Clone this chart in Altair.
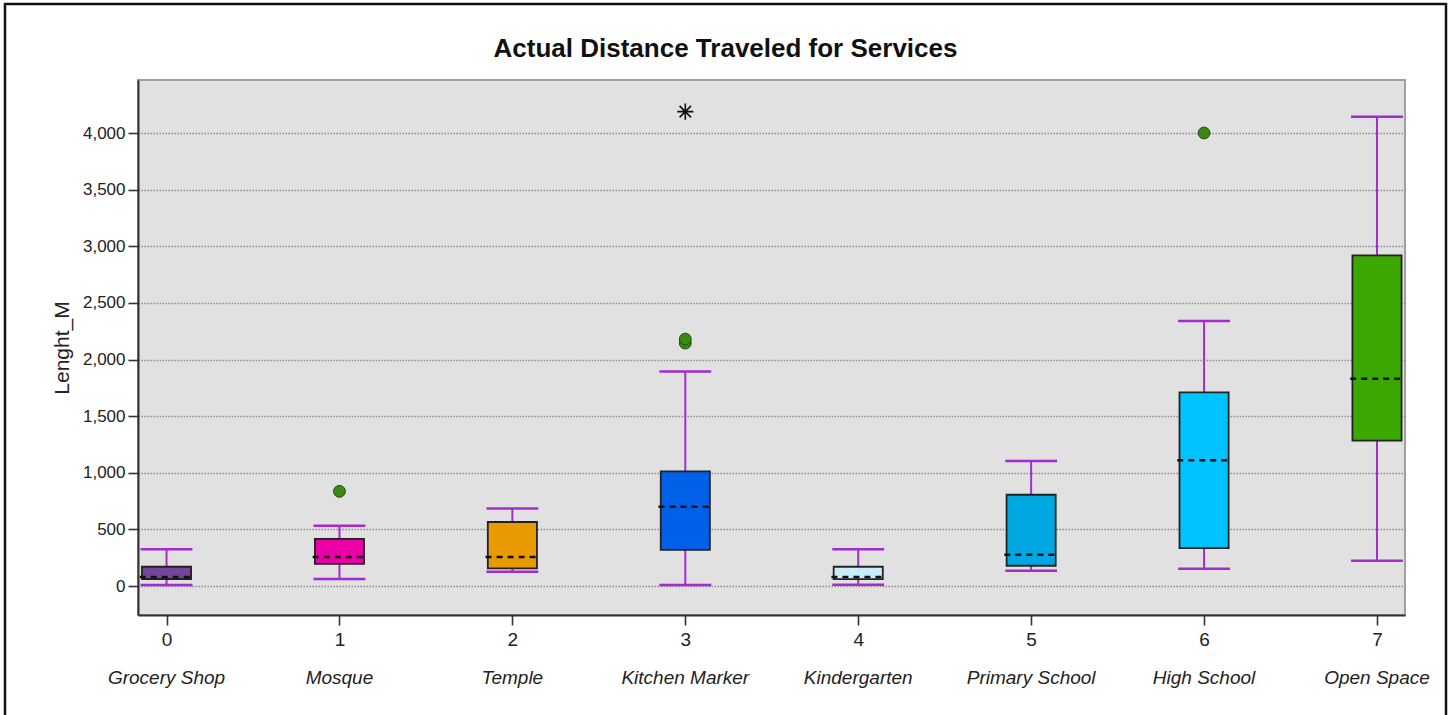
import altair as alt
import pandas as pd

# ---- data ----
categories = ["Grocery Shop", "Mosque", "Temple", "Kitchen Marker",
              "Kindergarten", "Primary School", "High School", "Open Space"]
positions = [0, 1, 2, 3, 4, 5, 6, 7]
whisker_low = [8, 62, 125, 10, 12, 134, 152, 222]
q1 = [62, 196, 155, 319, 60, 179, 335, 1284]
median = [80, 256, 256, 700, 80, 275, 1110, 1831]
q3 = [170, 417, 565, 1013, 170, 806, 1710, 2920]
whisker_high = [324, 533, 685, 1895, 325, 1104, 2339, 4143]
box_colors = ["#74459A", "#EA00A6", "#E99A00", "#0060E8",
              "#C8EDFC", "#00A8E2", "#00C4FF", "#3AA800"]

outlier_pos = [1, 3, 3, 6]
outlier_val = [836, 2145, 2180, 4000]
extreme_pos = [3]
extreme_val = [4189]

y_ticks = [0, 500, 1000, 1500, 2000, 2500, 3000, 3500, 4000]

df = pd.DataFrame({
    "pos": positions, "name": categories, "lo": whisker_low, "q1": q1,
    "med": median, "q3": q3, "hi": whisker_high, "fill": box_colors,
})
out_df = pd.DataFrame({"pos": outlier_pos, "val": outlier_val})
ext_df = pd.DataFrame({"pos": extreme_pos, "val": extreme_val})

W, H = 1267, 535
xs = alt.Scale(domain=[-0.165, 7.162], nice=False, zero=False)
ys = alt.Scale(domain=[-256, 4468], nice=False, zero=False)
WHISKER = "#A52BD0"

base = alt.Chart(df).transform_calculate(
    cl="datum.pos - 0.15", cr="datum.pos + 0.15",
    bl="datum.pos - 0.142", br="datum.pos + 0.142",
    ml="datum.pos - 0.155",
)

x_axis = alt.Axis(values=positions, labelExpr="format(datum.value, 'd')",
                  grid=False, tickSize=10,
                  tickColor="#333", tickWidth=1.6, domainColor="#333",
                  domainWidth=2, labelFontSize=19, labelColor="#222",
                  labelPadding=5, title=None)
y_axis = alt.Axis(values=y_ticks, labelExpr="format(datum.value, ',.0f')",
                  grid=True, gridDash=[1.5, 1.5],
                  gridColor="#8C8C8C", gridWidth=1.3, tickSize=10,
                  tickColor="#333", tickWidth=1.6, domainColor="#333",
                  domainWidth=2, labelFontSize=17, labelColor="#222",
                  labelPadding=3, title="Lenght_M", titleFontSize=21,
                  titleFontWeight="normal", titleColor="#222",
                  titleX=-76, titleY=H / 2, titleAngle=270,
                  titleAlign="center", titleBaseline="middle")


def X(field):
    return alt.X(field, scale=xs, axis=x_axis)


def Y(field):
    return alt.Y(field, scale=ys, axis=y_axis)


whisker = base.mark_rule(color=WHISKER, strokeWidth=2).encode(
    x=X("pos:Q"), y=Y("lo:Q"), y2="hi:Q",
)
cap_lo = base.mark_rule(color=WHISKER, strokeWidth=2.5).encode(
    x=X("cl:Q"), x2="cr:Q", y=Y("lo:Q"),
)
cap_hi = base.mark_rule(color=WHISKER, strokeWidth=2.5).encode(
    x=X("cl:Q"), x2="cr:Q", y=Y("hi:Q"),
)
box = base.mark_rect(stroke="#222", strokeWidth=1.8).encode(
    x=X("bl:Q"), x2="br:Q", y=Y("q1:Q"), y2="q3:Q",
    fill=alt.Fill("fill:N", scale=None),
)
med = base.mark_rule(color="#111", strokeWidth=2.5, strokeDash=[6, 5]).encode(
    x=X("ml:Q"), x2="br:Q", y=Y("med:Q"),
)
names = base.mark_text(fontSize=19, fontStyle="italic", color="#222",
                       baseline="middle", align="center").encode(
    x=X("pos:Q"), y=alt.value(H + 63), text="name:N",
)
outliers = alt.Chart(out_df).mark_point(
    shape="circle", filled=True, fill="#3A8A10", stroke="#1E4A10",
    strokeWidth=1, size=140, opacity=1).encode(
    x=X("pos:Q"), y=Y("val:Q"),
)
star_path = ("M-1,0L1,0M0,-1L0,1M-0.71,-0.71L0.71,0.71"
             "M-0.71,0.71L0.71,-0.71")
extreme = alt.Chart(ext_df).mark_point(
    shape=star_path, filled=False, stroke="#111", strokeWidth=1.6,
    size=260, opacity=1).encode(
    x=X("pos:Q"), y=Y("val:Q"),
)
frame = alt.Chart(alt.Data(values=[{}])).mark_rect(
    fill="transparent", stroke="#111", strokeWidth=2.5).encode(
    x=alt.value(-133), x2=alt.value(1308),
    y=alt.value(-76), y2=alt.value(660),
)

chart = alt.layer(
    whisker, cap_lo, cap_hi, box, med, outliers, extreme, names, frame
).properties(
    width=W, height=H,
    title=alt.TitleParams("Actual Distance Traveled for Services",
                          fontSize=26, fontWeight="bold", color="#111",
                          anchor="middle", dx=-46, offset=-59),
    autosize=alt.AutoSizeParams(type="none"),
    padding={"left": 138, "top": 80, "right": 46, "bottom": 100},
    background="white",
).configure(
    font="Liberation Sans",
).configure_view(
    fill="#E1E1E1", stroke="#A0A0A0", strokeWidth=2,
)

chart.save("out.html", embed_options={"renderer": "svg", "actions": False})
